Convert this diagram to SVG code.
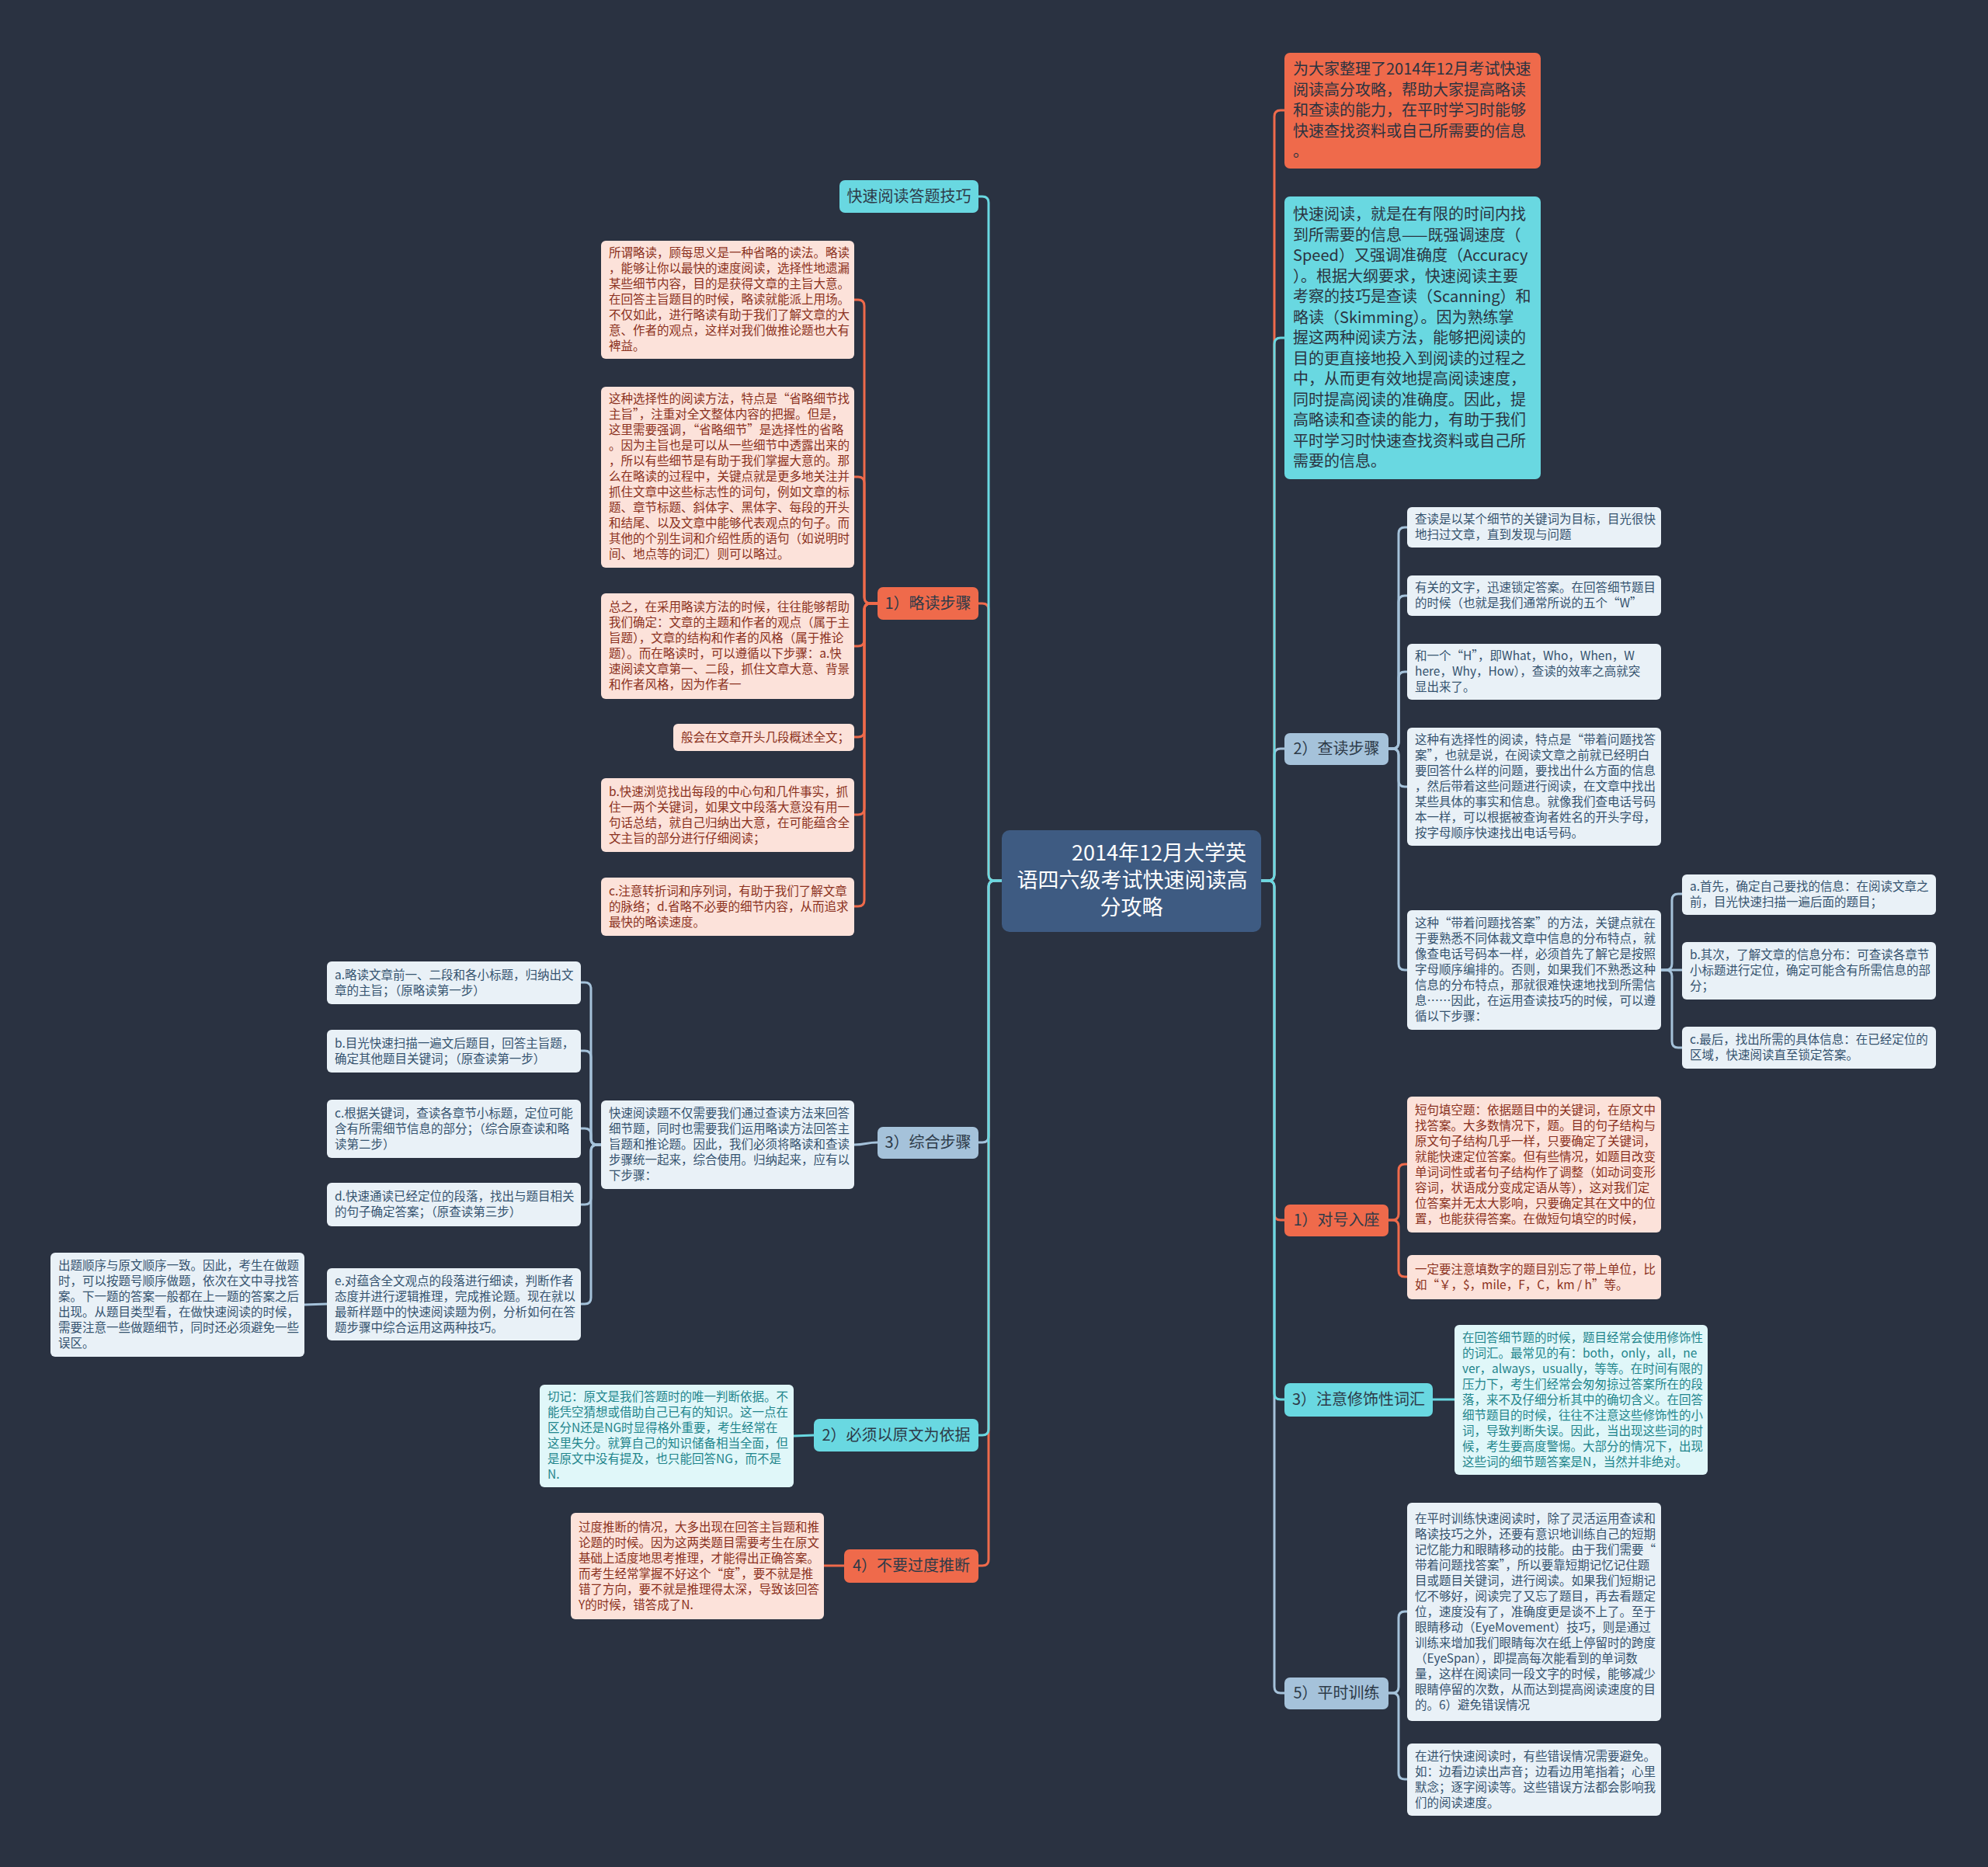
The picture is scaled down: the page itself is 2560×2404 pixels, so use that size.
<svg xmlns="http://www.w3.org/2000/svg" width="2560" height="2404" viewBox="0 0 2560 2404">
<style>
text{font-family:"Noto Sans CJK SC","Noto Sans",sans-serif}
.lo{fill:#ef6a4b}.lc{fill:#69d8e1}.ls{fill:#a5c2da}.rt{fill:#3e5b82}
.pb{fill:#e9f1f7}.pp{fill:#fce2da}.pc{fill:#e0f7f9}
.tl{font-size:20px;fill:#2d3a48;text-anchor:middle}
.tb{font-size:20px;fill:#2b3340}
.tf{font-size:15.5px}
.cb{fill:#35536f}.cp{fill:#8b3120}.cc{fill:#1f858c}
.c{fill:none;stroke-width:3}
.co{stroke:#ef6a4b}.cy{stroke:#69d8e1}.cs{stroke:#a5c2da}
</style>
<rect width="2560" height="2404" fill="#2a3241"/>

<g id="connectors">
<path class="c co" d="M1624 1134H1633Q1641 1134 1641 1126V150Q1641 142 1649 142H1654"/>
<path class="c co" d="M1624 1134H1633Q1641 1134 1641 1142V1563Q1641 1571 1649 1571H1654"/>
<path class="c cs" d="M1624 1134H1633Q1641 1134 1641 1126V972Q1641 964 1649 964H1654"/>
<path class="c cs" d="M1624 1134H1633Q1641 1134 1641 1142V2172Q1641 2180 1649 2180H1654"/>
<path class="c cy" d="M1624 1134H1633Q1641 1134 1641 1126V443Q1641 435 1649 435H1654"/>
<path class="c cy" d="M1624 1134H1633Q1641 1134 1641 1142V1794Q1641 1802 1649 1802H1654"/>

<path class="c co" d="M1290 1134H1281Q1273 1134 1273 1126V785Q1273 777 1265 777H1260"/>
<path class="c co" d="M1290 1134H1281Q1273 1134 1273 1142V2008Q1273 2016 1265 2016H1260"/>
<path class="c cs" d="M1290 1134H1281Q1273 1134 1273 1142V1463Q1273 1471 1265 1471H1260"/>
<path class="c cy" d="M1290 1134H1281Q1273 1134 1273 1126V261Q1273 253 1265 253H1260"/>
<path class="c cy" d="M1290 1134H1281Q1273 1134 1273 1142V1840Q1273 1848 1265 1848H1260"/>

<path class="c co" d="M1130 777H1121Q1113 777 1113 769V394Q1113 386 1105 386H1100"/>
<path class="c co" d="M1130 777H1121Q1113 777 1113 769V622Q1113 614 1105 614H1100"/>
<path class="c co" d="M1130 777H1121Q1113 777 1113 785V824Q1113 832 1105 832H1100"/>
<path class="c co" d="M1130 777H1121Q1113 777 1113 785V941Q1113 949 1105 949H1100"/>
<path class="c co" d="M1130 777H1121Q1113 777 1113 785V1041Q1113 1049 1105 1049H1100"/>
<path class="c co" d="M1130 777H1121Q1113 777 1113 785V1159Q1113 1167 1105 1167H1100"/>

<path class="c cs" d="M1130 1471C1115 1471 1115 1474 1100 1474"/>
<path class="c cs" d="M774 1474H769Q761 1474 761 1466V1273Q761 1265 753 1265H748"/>
<path class="c cs" d="M774 1474H769Q761 1474 761 1466V1361Q761 1353 753 1353H748"/>
<path class="c cs" d="M774 1474H769Q761 1474 761 1466V1461Q761 1453 753 1453H748"/>
<path class="c cs" d="M774 1474H769Q761 1474 761 1482V1543Q761 1551 753 1551H748"/>
<path class="c cs" d="M774 1474H769Q761 1474 761 1482V1671Q761 1679 753 1679H748"/>
<path class="c cs" d="M421 1679L392 1680"/>
<path class="c cy" d="M1048 1848L1022 1849"/>
<path class="c co" d="M1087 2016H1061"/>

<path class="c cs" d="M1788 964H1793Q1801 964 1801 956V687Q1801 679 1809 679H1812"/>
<path class="c cs" d="M1788 964H1793Q1801 964 1801 956V775Q1801 767 1809 767H1812"/>
<path class="c cs" d="M1788 964H1793Q1801 964 1801 956V873Q1801 865 1809 865H1812"/>
<path class="c cs" d="M1788 964H1793Q1801 964 1801 972V1005Q1801 1013 1809 1013H1812"/>
<path class="c cs" d="M1788 964H1793Q1801 964 1801 972V1241Q1801 1249 1809 1249H1812"/>
<path class="c cs" d="M2139 1249H2145Q2153 1249 2153 1241V1159Q2153 1151 2161 1151H2166"/>
<path class="c cs" d="M2139 1249H2166"/>
<path class="c cs" d="M2139 1249H2145Q2153 1249 2153 1257V1341Q2153 1349 2161 1349H2166"/>
<path class="c co" d="M1788 1571H1793Q1801 1571 1801 1563V1507Q1801 1499 1809 1499H1812"/>
<path class="c co" d="M1788 1571H1793Q1801 1571 1801 1579V1636Q1801 1644 1809 1644H1812"/>
<path class="c cy" d="M1845 1802H1873"/>
<path class="c cs" d="M1788 2180H1793Q1801 2180 1801 2172V2083Q1801 2075 1809 2075H1812"/>
<path class="c cs" d="M1788 2180H1793Q1801 2180 1801 2188V2283Q1801 2291 1809 2291H1812"/>
</g>

<g id="root">
<rect class="rt" x="1290" y="1069" width="334" height="131" rx="10"/>
<text x="1605" y="1108" font-size="27" fill="#ffffff" text-anchor="end">2014年12月大学英</text>
<text x="1458" y="1143" font-size="27" fill="#ffffff" text-anchor="middle">语四六级考试快速阅读高</text>
<text x="1457" y="1178" font-size="27" fill="#ffffff" text-anchor="middle">分攻略</text>
</g>

<g id="intro">
<rect class="lo" x="1654" y="68" width="330" height="149" rx="7"/>
<text class="tb" x="1665" y="96">为大家整理了2014年12月考试快速</text>
<text class="tb" x="1665" y="122.5">阅读高分攻略，帮助大家提高略读</text>
<text class="tb" x="1665" y="149">和查读的能力，在平时学习时能够</text>
<text class="tb" x="1665" y="175.5">快速查找资料或自己所需要的信息</text>
<text class="tb" x="1665" y="202">。</text>
</g>

<g id="definition">
<rect class="lc" x="1654" y="253" width="330" height="364" rx="7"/>
<text class="tb" x="1665" y="283">快速阅读，就是在有限的时间内找</text>
<text class="tb" x="1665" y="309.5">到所需要的信息——既强调速度（</text>
<text class="tb" x="1665" y="336">Speed）又强调准确度（Accuracy</text>
<text class="tb" x="1665" y="362.5">）。根据大纲要求，快速阅读主要</text>
<text class="tb" x="1665" y="389">考察的技巧是查读（Scanning）和</text>
<text class="tb" x="1665" y="415.5">略读（Skimming）。因为熟练掌</text>
<text class="tb" x="1665" y="442">握这两种阅读方法，能够把阅读的</text>
<text class="tb" x="1665" y="468.5">目的更直接地投入到阅读的过程之</text>
<text class="tb" x="1665" y="495">中，从而更有效地提高阅读速度，</text>
<text class="tb" x="1665" y="521.5">同时提高阅读的准确度。因此，提</text>
<text class="tb" x="1665" y="548">高略读和查读的能力，有助于我们</text>
<text class="tb" x="1665" y="574.5">平时学习时快速查找资料或自己所</text>
<text class="tb" x="1665" y="601">需要的信息。</text>
</g>

<g id="scan">
<rect class="ls" x="1654" y="944" width="134" height="41" rx="7"/>
<text class="tl" x="1721" y="971">2）查读步骤</text>
</g>
<g id="scan-1">
<rect class="pb" x="1812" y="653" width="327" height="52" rx="6"/>
<text class="tf cb" x="1822" y="674">查读是以某个细节的关键词为目标，目光很快</text>
<text class="tf cb" x="1822" y="694">地扫过文章，直到发现与问题</text>
</g>
<g id="scan-2">
<rect class="pb" x="1812" y="741" width="327" height="52" rx="6"/>
<text class="tf cb" x="1822" y="762">有关的文字，迅速锁定答案。在回答细节题目</text>
<text class="tf cb" x="1822" y="782">的时候（也就是我们通常所说的五个“W”</text>
</g>
<g id="scan-3">
<rect class="pb" x="1812" y="829" width="327" height="72" rx="6"/>
<text class="tf cb" x="1822" y="850">和一个“H”，即What，Who，When，W</text>
<text class="tf cb" x="1822" y="870">here，Why，How），查读的效率之高就突</text>
<text class="tf cb" x="1822" y="890">显出来了。</text>
</g>
<g id="scan-4">
<rect class="pb" x="1812" y="937" width="327" height="152" rx="6"/>
<text class="tf cb" x="1822" y="958">这种有选择性的阅读，特点是“带着问题找答</text>
<text class="tf cb" x="1822" y="978">案”，也就是说，在阅读文章之前就已经明白</text>
<text class="tf cb" x="1822" y="998">要回答什么样的问题，要找出什么方面的信息</text>
<text class="tf cb" x="1822" y="1018">，然后带着这些问题进行阅读，在文章中找出</text>
<text class="tf cb" x="1822" y="1038">某些具体的事实和信息。就像我们查电话号码</text>
<text class="tf cb" x="1822" y="1058">本一样，可以根据被查询者姓名的开头字母，</text>
<text class="tf cb" x="1822" y="1078">按字母顺序快速找出电话号码。</text>
</g>
<g id="scan-5">
<rect class="pb" x="1812" y="1172" width="327" height="154" rx="6"/>
<text class="tf cb" x="1822" y="1194">这种“带着问题找答案”的方法，关键点就在</text>
<text class="tf cb" x="1822" y="1214">于要熟悉不同体裁文章中信息的分布特点，就</text>
<text class="tf cb" x="1822" y="1234">像查电话号码本一样，必须首先了解它是按照</text>
<text class="tf cb" x="1822" y="1254">字母顺序编排的。否则，如果我们不熟悉这种</text>
<text class="tf cb" x="1822" y="1274">信息的分布特点，那就很难快速地找到所需信</text>
<text class="tf cb" x="1822" y="1294">息……因此，在运用查读技巧的时候，可以遵</text>
<text class="tf cb" x="1822" y="1314">循以下步骤：</text>
</g>
<g id="scan-5a">
<rect class="pb" x="2166" y="1126" width="327" height="52" rx="6"/>
<text class="tf cb" x="2176" y="1147">a.首先，确定自己要找的信息：在阅读文章之</text>
<text class="tf cb" x="2176" y="1167">前，目光快速扫描一遍后面的题目；</text>
</g>
<g id="scan-5b">
<rect class="pb" x="2166" y="1213" width="327" height="74" rx="6"/>
<text class="tf cb" x="2176" y="1235">b.其次，了解文章的信息分布：可查读各章节</text>
<text class="tf cb" x="2176" y="1255">小标题进行定位，确定可能含有所需信息的部</text>
<text class="tf cb" x="2176" y="1275">分；</text>
</g>
<g id="scan-5c">
<rect class="pb" x="2166" y="1322" width="327" height="54" rx="6"/>
<text class="tf cb" x="2176" y="1344">c.最后，找出所需的具体信息：在已经定位的</text>
<text class="tf cb" x="2176" y="1364">区域，快速阅读直至锁定答案。</text>
</g>

<g id="match">
<rect class="lo" x="1654" y="1551" width="134" height="41" rx="7"/>
<text class="tl" x="1721" y="1578">1）对号入座</text>
</g>
<g id="match-1">
<rect class="pp" x="1812" y="1412" width="327" height="175" rx="6"/>
<text class="tf cp" x="1822" y="1434.5">短句填空题：依据题目中的关键词，在原文中</text>
<text class="tf cp" x="1822" y="1454.5">找答案。大多数情况下，题。目的句子结构与</text>
<text class="tf cp" x="1822" y="1474.5">原文句子结构几乎一样，只要确定了关键词，</text>
<text class="tf cp" x="1822" y="1494.5">就能快速定位答案。但有些情况，如题目改变</text>
<text class="tf cp" x="1822" y="1514.5">单词词性或者句子结构作了调整（如动词变形</text>
<text class="tf cp" x="1822" y="1534.5">容词，状语成分变成定语从等），这对我们定</text>
<text class="tf cp" x="1822" y="1554.5">位答案并无太大影响，只要确定其在文中的位</text>
<text class="tf cp" x="1822" y="1574.5">置，也能获得答案。在做短句填空的时候，</text>
</g>
<g id="match-2">
<rect class="pp" x="1812" y="1616" width="327" height="57" rx="6"/>
<text class="tf cp" x="1822" y="1639.5">一定要注意填数字的题目别忘了带上单位，比</text>
<text class="tf cp" x="1822" y="1659.5">如“￥，$，mile，F，C，km / h”等。</text>
</g>

<g id="modifiers">
<rect class="lc" x="1654" y="1781" width="191" height="43" rx="7"/>
<text class="tl" x="1749.5" y="1809">3）注意修饰性词汇</text>
</g>
<g id="modifiers-1">
<rect class="pc" x="1873" y="1706" width="326" height="193" rx="6"/>
<text class="tf cc" x="1883" y="1727.5">在回答细节题的时候，题目经常会使用修饰性</text>
<text class="tf cc" x="1883" y="1747.5">的词汇。最常见的有：both，only，all，ne</text>
<text class="tf cc" x="1883" y="1767.5">ver，always，usually，等等。在时间有限的</text>
<text class="tf cc" x="1883" y="1787.5">压力下，考生们经常会匆匆掠过答案所在的段</text>
<text class="tf cc" x="1883" y="1807.5">落，来不及仔细分析其中的确切含义。在回答</text>
<text class="tf cc" x="1883" y="1827.5">细节题目的时候，往往不注意这些修饰性的小</text>
<text class="tf cc" x="1883" y="1847.5">词，导致判断失误。因此，当出现这些词的时</text>
<text class="tf cc" x="1883" y="1867.5">候，考生要高度警惕。大部分的情况下，出现</text>
<text class="tf cc" x="1883" y="1887.5">这些词的细节题答案是N，当然并非绝对。</text>
</g>

<g id="practice">
<rect class="ls" x="1654" y="2160" width="134" height="41" rx="7"/>
<text class="tl" x="1721" y="2187">5）平时训练</text>
</g>
<g id="practice-1">
<rect class="pb" x="1812" y="1935" width="327" height="281" rx="6"/>
<text class="tf cb" x="1822" y="1960.5">在平时训练快速阅读时，除了灵活运用查读和</text>
<text class="tf cb" x="1822" y="1980.5">略读技巧之外，还要有意识地训练自己的短期</text>
<text class="tf cb" x="1822" y="2000.5">记忆能力和眼睛移动的技能。由于我们需要“</text>
<text class="tf cb" x="1822" y="2020.5">带着问题找答案”，所以要靠短期记忆记住题</text>
<text class="tf cb" x="1822" y="2040.5">目或题目关键词，进行阅读。如果我们短期记</text>
<text class="tf cb" x="1822" y="2060.5">忆不够好，阅读完了又忘了题目，再去看题定</text>
<text class="tf cb" x="1822" y="2080.5">位，速度没有了，准确度更是谈不上了。至于</text>
<text class="tf cb" x="1822" y="2100.5">眼睛移动（EyeMovement）技巧，则是通过</text>
<text class="tf cb" x="1822" y="2120.5">训练来增加我们眼睛每次在纸上停留时的跨度</text>
<text class="tf cb" x="1822" y="2140.5">（EyeSpan），即提高每次能看到的单词数</text>
<text class="tf cb" x="1822" y="2160.5">量，这样在阅读同一段文字的时候，能够减少</text>
<text class="tf cb" x="1822" y="2180.5">眼睛停留的次数，从而达到提高阅读速度的目</text>
<text class="tf cb" x="1822" y="2200.5">的。6）避免错误情况</text>
</g>
<g id="practice-2">
<rect class="pb" x="1812" y="2245" width="327" height="93" rx="6"/>
<text class="tf cb" x="1822" y="2266.5">在进行快速阅读时，有些错误情况需要避免。</text>
<text class="tf cb" x="1822" y="2286.5">如：边看边读出声音；边看边用笔指着；心里</text>
<text class="tf cb" x="1822" y="2306.5">默念；逐字阅读等。这些错误方法都会影响我</text>
<text class="tf cb" x="1822" y="2326.5">们的阅读速度。</text>
</g>

<g id="tips">
<rect class="lc" x="1081" y="232" width="179" height="42" rx="7"/>
<text class="tl" x="1170.5" y="260">快速阅读答题技巧</text>
</g>

<g id="skim">
<rect class="lo" x="1130" y="756" width="130" height="42" rx="7"/>
<text class="tl" x="1195" y="784">1）略读步骤</text>
</g>
<g id="skim-1">
<rect class="pp" x="774" y="310" width="326" height="152" rx="6"/>
<text class="tf cp" x="784" y="331">所谓略读，顾每思义是一种省略的读法。略读</text>
<text class="tf cp" x="784" y="351">，能够让你以最快的速度阅读，选择性地遗漏</text>
<text class="tf cp" x="784" y="371">某些细节内容，目的是获得文章的主旨大意。</text>
<text class="tf cp" x="784" y="391">在回答主旨题目的时候，略读就能派上用场。</text>
<text class="tf cp" x="784" y="411">不仅如此，进行略读有助于我们了解文章的大</text>
<text class="tf cp" x="784" y="431">意、作者的观点，这样对我们做推论题也大有</text>
<text class="tf cp" x="784" y="451">裨益。</text>
</g>
<g id="skim-2">
<rect class="pp" x="774" y="498" width="326" height="233" rx="6"/>
<text class="tf cp" x="784" y="519">这种选择性的阅读方法，特点是“省略细节找</text>
<text class="tf cp" x="784" y="539">主旨”，注重对全文整体内容的把握。但是，</text>
<text class="tf cp" x="784" y="559">这里需要强调，“省略细节”是选择性的省略</text>
<text class="tf cp" x="784" y="579">。因为主旨也是可以从一些细节中透露出来的</text>
<text class="tf cp" x="784" y="599">，所以有些细节是有助于我们掌握大意的。那</text>
<text class="tf cp" x="784" y="619">么在略读的过程中，关键点就是更多地关注并</text>
<text class="tf cp" x="784" y="639">抓住文章中这些标志性的词句，例如文章的标</text>
<text class="tf cp" x="784" y="659">题、章节标题、斜体字、黑体字、每段的开头</text>
<text class="tf cp" x="784" y="679">和结尾、以及文章中能够代表观点的句子。而</text>
<text class="tf cp" x="784" y="699">其他的个别生词和介绍性质的语句（如说明时</text>
<text class="tf cp" x="784" y="719">间、地点等的词汇）则可以略过。</text>
</g>
<g id="skim-3">
<rect class="pp" x="774" y="764" width="326" height="136" rx="6"/>
<text class="tf cp" x="784" y="787">总之，在采用略读方法的时候，往往能够帮助</text>
<text class="tf cp" x="784" y="807">我们确定：文章的主题和作者的观点（属于主</text>
<text class="tf cp" x="784" y="827">旨题），文章的结构和作者的风格（属于推论</text>
<text class="tf cp" x="784" y="847">题）。而在略读时，可以遵循以下步骤：a.快</text>
<text class="tf cp" x="784" y="867">速阅读文章第一、二段，抓住文章大意、背景</text>
<text class="tf cp" x="784" y="887">和作者风格，因为作者一</text>
</g>
<g id="skim-4">
<rect class="pp" x="867" y="932" width="233" height="35" rx="6"/>
<text class="tf cp" x="877" y="954.5">般会在文章开头几段概述全文；</text>
</g>
<g id="skim-5">
<rect class="pp" x="774" y="1002" width="326" height="95" rx="6"/>
<text class="tf cp" x="784" y="1024.5">b.快速浏览找出每段的中心句和几件事实，抓</text>
<text class="tf cp" x="784" y="1044.5">住一两个关键词，如果文中段落大意没有用一</text>
<text class="tf cp" x="784" y="1064.5">句话总结，就自己归纳出大意，在可能蕴含全</text>
<text class="tf cp" x="784" y="1084.5">文主旨的部分进行仔细阅读；</text>
</g>
<g id="skim-6">
<rect class="pp" x="774" y="1130" width="326" height="75" rx="6"/>
<text class="tf cp" x="784" y="1152.5">c.注意转折词和序列词，有助于我们了解文章</text>
<text class="tf cp" x="784" y="1172.5">的脉络；d.省略不必要的细节内容，从而追求</text>
<text class="tf cp" x="784" y="1192.5">最快的略读速度。</text>
</g>

<g id="combine">
<rect class="ls" x="1130" y="1451" width="130" height="41" rx="7"/>
<text class="tl" x="1195" y="1478">3）综合步骤</text>
</g>
<g id="combine-1">
<rect class="pb" x="774" y="1417" width="326" height="114" rx="6"/>
<text class="tf cb" x="784" y="1439">快速阅读题不仅需要我们通过查读方法来回答</text>
<text class="tf cb" x="784" y="1459">细节题，同时也需要我们运用略读方法回答主</text>
<text class="tf cb" x="784" y="1479">旨题和推论题。因此，我们必须将略读和查读</text>
<text class="tf cb" x="784" y="1499">步骤统一起来，综合使用。归纳起来，应有以</text>
<text class="tf cb" x="784" y="1519">下步骤：</text>
</g>
<g id="combine-a">
<rect class="pb" x="421" y="1238" width="327" height="55" rx="6"/>
<text class="tf cb" x="431" y="1260.5">a.略读文章前一、二段和各小标题，归纳出文</text>
<text class="tf cb" x="431" y="1280.5">章的主旨；（原略读第一步）</text>
</g>
<g id="combine-b">
<rect class="pb" x="421" y="1326" width="327" height="55" rx="6"/>
<text class="tf cb" x="431" y="1348.5">b.目光快速扫描一遍文后题目，回答主旨题，</text>
<text class="tf cb" x="431" y="1368.5">确定其他题目关键词；（原查读第一步）</text>
</g>
<g id="combine-c">
<rect class="pb" x="421" y="1416" width="327" height="75" rx="6"/>
<text class="tf cb" x="431" y="1438.5">c.根据关键词，查读各章节小标题，定位可能</text>
<text class="tf cb" x="431" y="1458.5">含有所需细节信息的部分；（综合原查读和略</text>
<text class="tf cb" x="431" y="1478.5">读第二步）</text>
</g>
<g id="combine-d">
<rect class="pb" x="421" y="1523" width="327" height="56" rx="6"/>
<text class="tf cb" x="431" y="1546">d.快速通读已经定位的段落，找出与题目相关</text>
<text class="tf cb" x="431" y="1566">的句子确定答案；（原查读第三步）</text>
</g>
<g id="combine-e">
<rect class="pb" x="421" y="1633" width="327" height="93" rx="6"/>
<text class="tf cb" x="431" y="1654.5">e.对蕴含全文观点的段落进行细读，判断作者</text>
<text class="tf cb" x="431" y="1674.5">态度并进行逻辑推理，完成推论题。现在就以</text>
<text class="tf cb" x="431" y="1694.5">最新样题中的快速阅读题为例，分析如何在答</text>
<text class="tf cb" x="431" y="1714.5">题步骤中综合运用这两种技巧。</text>
</g>
<g id="combine-e1">
<rect class="pb" x="65" y="1613" width="327" height="134" rx="6"/>
<text class="tf cb" x="75" y="1635">出题顺序与原文顺序一致。因此，考生在做题</text>
<text class="tf cb" x="75" y="1655">时，可以按题号顺序做题，依次在文中寻找答</text>
<text class="tf cb" x="75" y="1675">案。下一题的答案一般都在上一题的答案之后</text>
<text class="tf cb" x="75" y="1695">出现。从题目类型看，在做快速阅读的时候，</text>
<text class="tf cb" x="75" y="1715">需要注意一些做题细节，同时还必须避免一些</text>
<text class="tf cb" x="75" y="1735">误区。</text>
</g>

<g id="original">
<rect class="lc" x="1048" y="1827" width="212" height="42" rx="7"/>
<text class="tl" x="1154" y="1855">2）必须以原文为依据</text>
</g>
<g id="original-1">
<rect class="pc" x="695" y="1783" width="327" height="132" rx="6"/>
<text class="tf cc" x="705" y="1804">切记：原文是我们答题时的唯一判断依据。不</text>
<text class="tf cc" x="705" y="1824">能凭空猜想或借助自己已有的知识。这一点在</text>
<text class="tf cc" x="705" y="1844">区分N还是NG时显得格外重要，考生经常在</text>
<text class="tf cc" x="705" y="1864">这里失分。就算自己的知识储备相当全面，但</text>
<text class="tf cc" x="705" y="1884">是原文中没有提及，也只能回答NG，而不是</text>
<text class="tf cc" x="705" y="1904">N.</text>
</g>

<g id="overinfer">
<rect class="lo" x="1087" y="1995" width="173" height="43" rx="7"/>
<text class="tl" x="1173.5" y="2023">4）不要过度推断</text>
</g>
<g id="overinfer-1">
<rect class="pp" x="735" y="1948" width="326" height="137" rx="6"/>
<text class="tf cp" x="745" y="1971.5">过度推断的情况，大多出现在回答主旨题和推</text>
<text class="tf cp" x="745" y="1991.5">论题的时候。因为这两类题目需要考生在原文</text>
<text class="tf cp" x="745" y="2011.5">基础上适度地思考推理，才能得出正确答案。</text>
<text class="tf cp" x="745" y="2031.5">而考生经常掌握不好这个“度”，要不就是推</text>
<text class="tf cp" x="745" y="2051.5">错了方向，要不就是推理得太深，导致该回答</text>
<text class="tf cp" x="745" y="2071.5">Y的时候，错答成了N.</text>
</g>
</svg>
